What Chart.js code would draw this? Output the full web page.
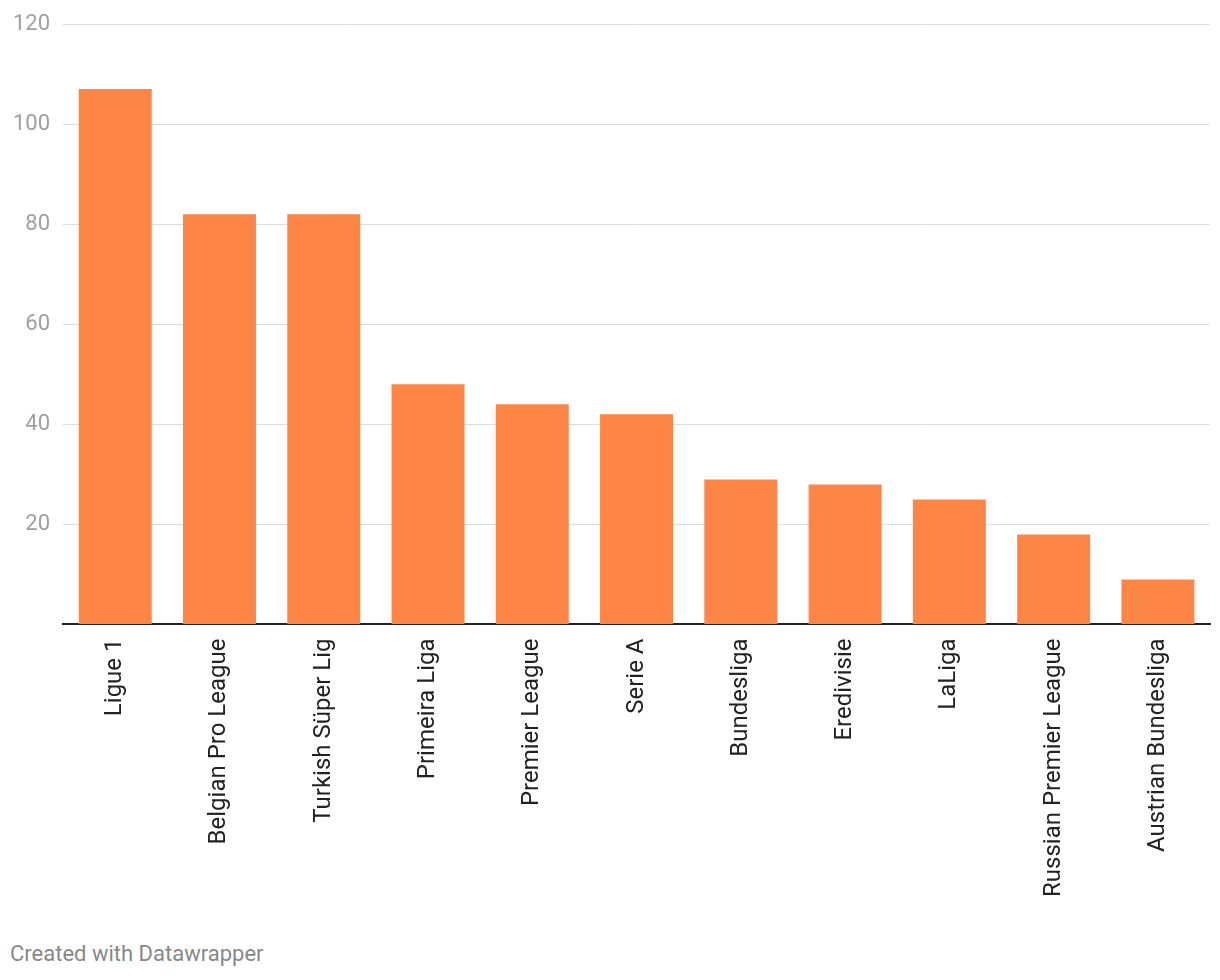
<!DOCTYPE html>
<html>
<head>
<meta charset="utf-8">
<script src="https://cdn.jsdelivr.net/npm/chart.js@4"></script>
<style>
  html, body { margin: 0; padding: 0; background: #fff; }
  #wrap { position: absolute; left: 0; top: 0; width: 1220px; height: 920px; }
  #footer { position: absolute; left: 10px; top: 941px; font: 22px Roboto, sans-serif; color: #888; }
</style>
</head>
<body>
<div id="wrap"><canvas id="c" width="1220" height="920"></canvas></div>
<div id="footer">Created with Datawrapper</div>
<script>
const categories = ["Ligue 1", "Belgian Pro League", "Turkish Süper Lig", "Primeira Liga", "Premier League", "Serie A", "Bundesliga", "Eredivisie", "LaLiga", "Russian Premier League", "Austrian Bundesliga"];
const values = [107, 82, 82, 48, 44, 42, 29, 28, 25, 18, 9];
const yTicks = [0, 20, 40, 60, 80, 100, 120];

new Chart(document.getElementById('c'), {
  type: 'bar',
  data: {
    labels: categories,
    datasets: [{
      data: values,
      backgroundColor: '#fd8646',
      barPercentage: 0.7,
      categoryPercentage: 1.0
    }]
  },
  options: {
    responsive: false,
    animation: false,
    layout: { padding: { left: 0, right: 10, top: 0, bottom: 9 } },
    plugins: { legend: { display: false }, tooltip: { enabled: false } },
    scales: {
      x: {
        grid: { display: false, drawTicks: false },
        border: { display: true, color: '#222', width: 2 },
        ticks: {
          color: '#222',
          font: { family: 'Roboto', size: 24 },
          minRotation: 90, maxRotation: 90,
          padding: 14, autoSkip: false
        }
      },
      y: {
        min: 0, max: 120,
        afterBuildTicks: (scale) => { scale.ticks = yTicks.map(v => ({ value: v })); },
        grid: { color: '#dcdcdc', lineWidth: 1, drawTicks: false },
        border: { display: false },
        ticks: {
          color: '#a0a0a0',
          font: { family: 'Roboto', size: 22, lineHeight: 1.0 },
          padding: 13,
          callback: (v) => (v === 0 ? '' : v)
        }
      }
    }
  }
});
</script>
</body>
</html>
